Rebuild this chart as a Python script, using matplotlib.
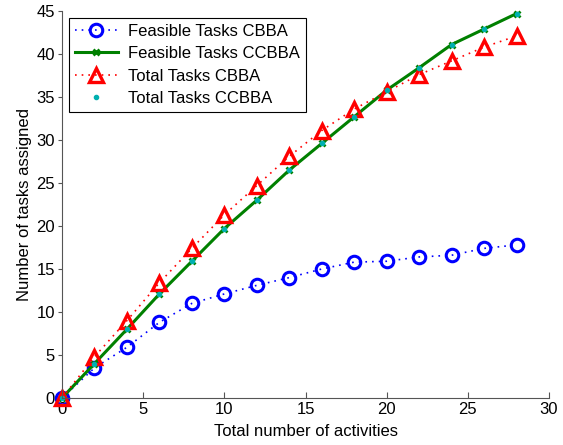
import matplotlib.pyplot as plt
import numpy as np

plt.rcParams['font.family'] = ['Liberation Sans', 'DejaVu Sans']

# Data
activities = np.array([0, 2, 4, 6, 8, 10, 12, 14, 16, 18, 20, 22, 24, 26, 28])
feasible_cbba = np.array([0, 3.5, 5.9, 8.8, 11.0, 12.1, 13.1, 14.0, 15.0, 15.8, 15.9, 16.4, 16.6, 17.4, 17.8])
feasible_ccbba = np.array([0, 4.0, 8.0, 12.1, 15.9, 19.7, 23.0, 26.5, 29.6, 32.7, 35.8, 38.4, 41.1, 42.9, 44.7])
total_cbba = np.array([0, 4.8, 9.0, 13.4, 17.4, 21.3, 24.7, 28.1, 31.1, 33.6, 35.6, 37.6, 39.2, 40.8, 42.1])
total_ccbba = feasible_ccbba.copy()

fig = plt.figure(figsize=(5.63, 4.45), dpi=100)
ax = fig.add_axes([62/563, 1 - 398/445, (549 - 62)/563, (398 - 11)/445])

ax.plot(activities, feasible_cbba, color='blue', linestyle=(0, (1, 3)), marker='o', markersize=9,
        markerfacecolor='none', markeredgewidth=2.2, linewidth=1.2,
        label='Feasible Tasks CBBA', clip_on=False)
ax.plot(activities, feasible_ccbba, '-', color='#008000', marker='x', markersize=5,
        markeredgewidth=2, linewidth=2.2, label='Feasible Tasks CCBBA', clip_on=False)
ax.plot(activities, total_cbba, color='red', linestyle=(0, (1, 3)), marker='^', markersize=10,
        markerfacecolor='none', markeredgewidth=2.4, linewidth=1.2,
        label='Total Tasks CBBA', clip_on=False)
ax.plot(activities, total_ccbba, '.', color='#00b0b0', markersize=6,
        linestyle='none', label='Total Tasks CCBBA', clip_on=False)

ax.set_xlim(0, 30)
ax.set_ylim(0, 45)
ax.set_xticks(np.arange(0, 31, 5))
ax.set_yticks(np.arange(0, 46, 5))
ax.tick_params(labelsize=12, colors='#555555', labelcolor='black')
ax.tick_params(axis='x', direction='in', length=4, pad=3)
ax.tick_params(axis='y', direction='out', length=3, pad=2)
ax.spines['top'].set_visible(False)
ax.spines['right'].set_visible(False)
for s in ['left', 'bottom']:
    ax.spines[s].set_color('#555555')

ax.set_xlabel('Total number of activities', fontsize=12, labelpad=5)
ax.set_ylabel('Number of tasks assigned', fontsize=12, labelpad=3)

leg = ax.legend(loc='upper left', fontsize=12, fancybox=False, framealpha=1,
                edgecolor='black', borderaxespad=0.4, handlelength=2.6,
                labelspacing=0.45, borderpad=0.35, handletextpad=0.6)
leg.get_frame().set_linewidth(0.8)

fig.savefig('out.png', dpi=100)
